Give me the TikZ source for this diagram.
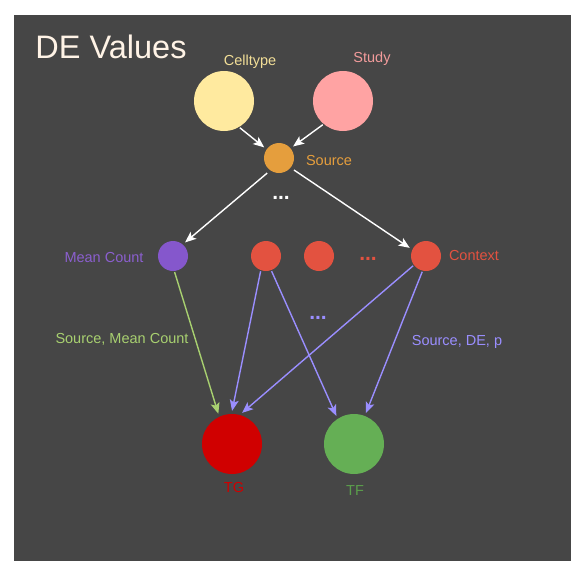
\documentclass[tikz,border=0pt]{standalone}
\usepackage{fontspec}
\setmainfont{Liberation Sans}
\usetikzlibrary{arrows.meta}

\definecolor{bgdark}{HTML}{464646}
\definecolor{titlecol}{HTML}{FFF3E6}
\definecolor{celltypecol}{HTML}{FFEA9F}
\definecolor{studycol}{HTML}{FFA3A3}
\definecolor{sourcecol}{HTML}{E59E3D}
\definecolor{meancol}{HTML}{8557CC}
\definecolor{contextcol}{HTML}{E35240}
\definecolor{tgcol}{HTML}{D00000}
\definecolor{tfcol}{HTML}{65AF55}
\definecolor{greenedge}{HTML}{A8D070}
\definecolor{purpleedge}{HTML}{9A8EFF}

\tikzset{
  varsmall/.style={circle, fill=#1, inner sep=0pt, minimum size=30pt},
  varbig/.style={circle, fill=#1, inner sep=0pt, minimum size=60pt},
  lbl/.style={text=#1, font=\fontsize{14.5}{16}\selectfont, inner sep=0pt},
  ellip/.style={text=#1, font=\bfseries\fontsize{21}{22}\selectfont, inner sep=0pt},
  flow/.style={draw=#1, line width=1.4pt, ->, shorten >=3pt, shorten <=1pt},
}

\begin{document}
\begin{tikzpicture}[x=1pt, y=-1pt, >={Stealth[length=11pt,width=9pt,inset=2.5pt]}]
    \useasboundingbox (0,0) rectangle (584,573);
    \fill[bgdark] (14,15) rectangle (571,561);
    \node[text=titlecol, font=\fontsize{32.5}{36}\selectfont, inner sep=0pt] (title) at (111,47) {DE Values};

    % study-level variables
    \node[varbig=celltypecol] (celltype) at (224,101) {};
    \node[lbl=celltypecol!95!black] (celltypelbl) at (250,62) {Celltype};
    \node[varbig=studycol] (study) at (343,101) {};
    \node[lbl=studycol!95!black] (studylbl) at (372,59) {Study};

    \node[varsmall=sourcecol] (source) at (279,158) {};
    \node[lbl=sourcecol] (sourcelbl) at (329,161) {Source};
    \node[ellip=white] (srcdots) at (281,198) {...};

    % per-context variables
    \node[varsmall=meancol] (mean) at (173,256) {};
    \node[lbl=meancol!95!white] (meanlbl) at (104,258) {Mean Count};
    \node[varsmall=contextcol] (ctxa) at (266,256) {};
    \node[varsmall=contextcol] (ctxb) at (319,256) {};
    \node[ellip=contextcol] (ctxdots) at (368,259) {...};
    \node[varsmall=contextcol] (context) at (426,256) {};
    \node[lbl=contextcol] (contextlbl) at (474,256) {Context};
    \node[ellip=purpleedge] (edgedots) at (318,318) {...};

    % gene nodes
    \node[varbig=tgcol] (tg) at (232,444) {};
    \node[lbl=tgcol] (tglbl) at (234,488) {TG};
    \node[varbig=tfcol] (tf) at (354,444) {};
    \node[lbl=tfcol!90!black] (tflbl) at (355,491) {TF};

    \node[lbl=greenedge] (meanedgelbl) at (122,339) {Source, Mean Count};
    \node[lbl=purpleedge] (deedgelbl) at (457,342) {Source, DE, p};

    % connectors
    \draw[flow=white] (celltype.-60) -- (source.145);
    \draw[flow=white] (study.-130) -- (source.40);
    \draw[flow=white, shorten <=4pt] (source.-125) -- (mean.50);
    \draw[flow=white, shorten <=4pt] (source.-40) -- (context.155);

    \draw[flow=greenedge] (mean.-85) -- (tg.115);
    \draw[flow=purpleedge] (ctxa.-110) -- (tg.91);
    \draw[flow=purpleedge] (ctxa.-70) -- (tf.123);
    \draw[flow=purpleedge] (context.-143) -- (tg.75);
    \draw[flow=purpleedge] (context.-103) -- (tf.69);
\end{tikzpicture}
\end{document}
